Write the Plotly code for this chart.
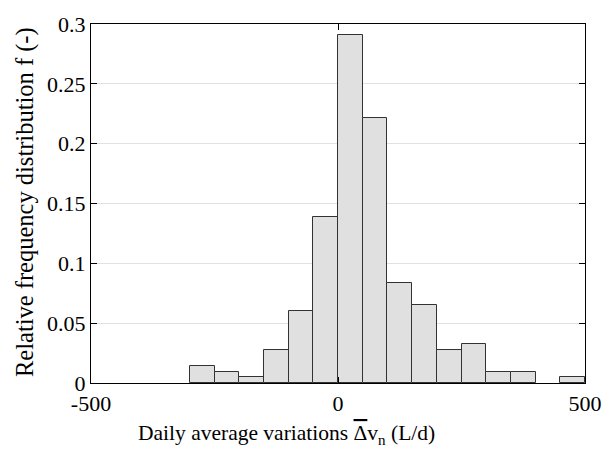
import plotly.graph_objects as go

bin_left = [-500, -450, -400, -350, -300, -250, -200, -150, -100, -50,
            0, 50, 100, 150, 200, 250, 300, 350, 400, 450]
freq = [0, 0, 0, 0, 0.0139, 0.0092, 0.0049, 0.0277, 0.0603, 0.1386,
        0.291, 0.2217, 0.0832, 0.065, 0.0277, 0.0323, 0.0092, 0.0092, 0, 0.0049]
bin_width = 50
x_ticks = [-500, 0, 500]
x_tick_labels = ["-500", "0", "500"]
y_ticks = [0, 0.05, 0.1, 0.15, 0.2, 0.25, 0.3]
y_tick_labels = ["0", "0.05", "0.1", "0.15", "0.2", "0.25", "0.3"]

centers = [b + bin_width / 2 for b in bin_left]
xs = [c for c, f in zip(centers, freq) if f > 0]
ys = [f for f in freq if f > 0]

font = "Liberation Serif, Times New Roman, serif"

fig = go.Figure(go.Bar(
    x=xs, y=ys, width=bin_width,
    marker=dict(color="rgb(224,224,224)", line=dict(color="rgb(50,50,50)", width=1)),
))

fig.update_layout(
    width=614, height=453,
    margin=dict(l=91, r=28, t=15, b=70),
    paper_bgcolor="white", plot_bgcolor="white",
    showlegend=False,
    font=dict(family=font, size=18, color="black"),
    bargap=0,
    annotations=[
        dict(text="Daily average variations <span style='text-decoration:overline'>Δ</span>v<sub>n</sub> (L/d)",
             xref="paper", yref="paper", x=0.396, y=-0.143, xanchor="center", yanchor="middle",
             showarrow=False, font=dict(family=font, size=21.5)),
        dict(text="Relative frequency distribution f (-)",
             xref="paper", yref="paper", x=-0.135, y=0.505, xanchor="center", yanchor="middle",
             textangle=-90, showarrow=False, font=dict(family=font, size=24.5)),
    ],
)
fig.update_xaxes(
    range=[-500, 500], tickvals=x_ticks, ticktext=x_tick_labels,
    ticks="inside", ticklen=6, tickcolor="black", mirror="ticks",
    showline=True, linecolor="black", linewidth=1.2,
    showgrid=False, zeroline=False,
    tickfont=dict(family=font, size=22),
)
fig.update_yaxes(
    range=[0, 0.3], tickvals=y_ticks, ticktext=y_tick_labels,
    ticks="inside", ticklen=6, tickcolor="black", mirror="ticks",
    showline=True, linecolor="black", linewidth=1.2,
    showgrid=True, gridcolor="rgb(225,225,225)", gridwidth=1, zeroline=False,
    tickfont=dict(family=font, size=22),
)

fig.write_html("out.html")
